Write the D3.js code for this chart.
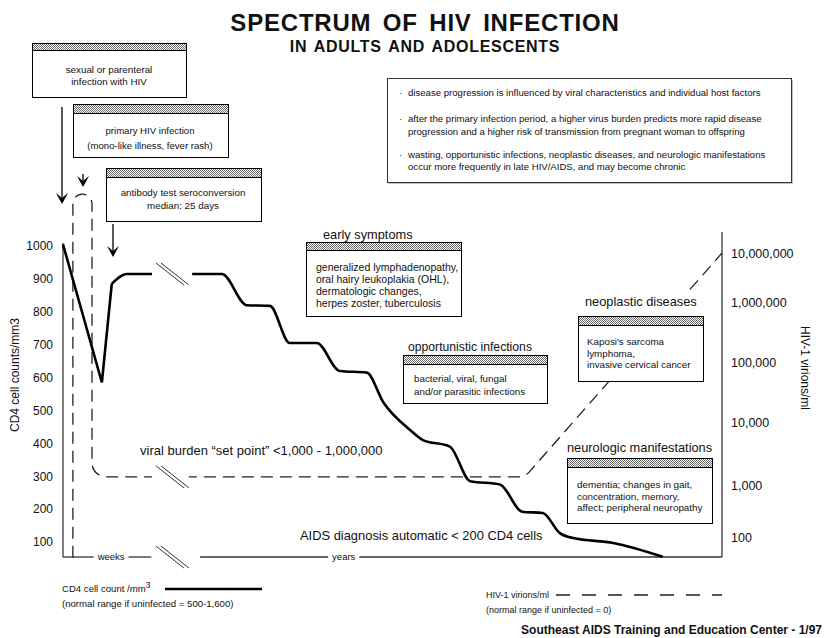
<!DOCTYPE html>
<html>
<head>
<meta charset="utf-8">
<script src="https://cdn.jsdelivr.net/npm/d3@7"></script>
<style>
body { margin: 0; background: #fff; }
text { font-family: "Liberation Sans", Arial, sans-serif; fill: #111; }
</style>
</head>
<body>
<div id="chart"></div>
<script>
// CD4 cell counts (cells/mm3) against a time index 0..100 (weeks, axis break, then years)
var cd4Acute = [[0, 1005], [5.9, 585], [7.4, 885]];
var cd4Recovery = [[7.4, 885], [9.7, 915], [13.5, 915]];
var cd4Chronic = [[19.6, 915], [24.1, 915], [27.9, 820], [31.4, 818], [34.4, 705], [38.5, 705],
  [42.0, 620], [46.1, 615], [48.6, 525], [52.7, 440], [54.6, 410], [58.7, 390], [61.8, 285],
  [66.3, 275], [69.7, 192], [72.8, 188], [75.4, 127], [77.4, 112], [83.5, 97], [91.0, 55]];
// HIV-1 virions/ml, as log10 values
var viralEarly = [[1.5, 1.6], [1.5, 8.2], [4.4, 8.2], [4.4, 3.13], [13.5, 3.13]];
var viralLate = [[19.1, 3.13], [70.1, 3.13], [100, 7]];
var cd4Ticks = [100, 200, 300, 400, 500, 600, 700, 800, 900, 1000];
var viralTicks = [2, 3, 4, 5, 6, 7];
var breakAt = 16.6;
var timeLabels = [["weeks", 7.3], ["years", 42.6]];

var boxTitles = ["", "", "", "early symptoms", "opportunistic infections", "neoplastic diseases", "neurologic manifestations"];
var boxLines = [
  ["sexual or parenteral", "infection with HIV"],
  ["primary HIV infection", "(mono-like illness, fever rash)"],
  ["antibody test seroconversion", "median: 25 days"],
  ["generalized lymphadenopathy,", "oral hairy leukoplakia (OHL),", "dermatologic changes,", "herpes zoster, tuberculosis"],
  ["bacterial, viral, fungal", "and/or parasitic infections"],
  ["Kaposi's sarcoma", "lymphoma,", "invasive cervical cancer"],
  ["dementia; changes in gait,", "concentration, memory,", "affect; peripheral neuropathy"]
];
var notes = [
  ["disease progression is influenced by viral characteristics and individual host factors"],
  ["after the primary infection period, a higher virus burden predicts more rapid disease",
   "progression and a higher risk of transmission from pregnant woman to offspring"],
  ["wasting, opportunistic infections, neoplastic diseases, and neurologic manifestations",
   "occur more frequently in late HIV/AIDS, and may become chronic"]
];

// layout of the annotation boxes (pixels)
var boxLayout = [
  {x: 32, y: 43, w: 154, h: 54, hh: 7, cx: 109, ty: [73, 85], fs: 9.8},
  {x: 73, y: 104, w: 155, h: 53, hh: 9, cx: 150, ty: [134, 149], fs: 9.6},
  {x: 106, y: 168, w: 155, h: 53, hh: 9, cx: 183, ty: [196, 209], fs: 9.8},
  {x: 306, y: 242, w: 155, h: 74, hh: 8, tx: 316, ty: [271, 283, 295, 307], fs: 10.5, titleX: 323, titleY: 239, tfs: 12.8},
  {x: 403, y: 355, w: 144, h: 48, hh: 9, tx: 414, ty: [382, 395], fs: 9.8, titleX: 408, titleY: 351, tfs: 12.2},
  {x: 578, y: 316, w: 125, h: 65, hh: 9, tx: 587, ty: [345, 357, 368], fs: 9.8, titleX: 585, titleY: 306, tfs: 12.8},
  {x: 567, y: 458, w: 145, h: 65, hh: 9, tx: 577, ty: [488, 500, 511], fs: 9.9, titleX: 567, titleY: 452, tfs: 12.8}
];
var arrows = [[62, 107, 204], [83, 174, 187], [113, 224, 257]];

var svg = d3.select("#chart").append("svg").attr("width", 825).attr("height", 638);

var pat = svg.append("defs").append("pattern").attr("id", "stipple")
  .attr("width", 2).attr("height", 2).attr("patternUnits", "userSpaceOnUse");
pat.append("rect").attr("width", 2).attr("height", 2).attr("fill", "#fff");
pat.append("rect").attr("width", 1).attr("height", 1).attr("fill", "#6a6a6a");
pat.append("rect").attr("x", 1).attr("y", 1).attr("width", 1).attr("height", 1).attr("fill", "#6a6a6a");

var x = d3.scaleLinear().domain([0, 100]).range([63, 722]);
var y = d3.scaleLinear().domain([100, 1000]).range([542, 246]);
// hand drawn log axis, the decades are not evenly spaced
var yv = d3.scaleLinear().domain([2, 3, 4, 5, 6, 7]).range([537, 485, 422, 362, 302, 253]);

// title
svg.append("text").attr("x", 425).attr("y", 31).attr("text-anchor", "middle")
  .style("font-size", "24px").style("font-weight", "bold")
  .style("letter-spacing", "0.8px").style("word-spacing", "4px")
  .text("SPECTRUM OF HIV INFECTION");
svg.append("text").attr("x", 425).attr("y", 52).attr("text-anchor", "middle")
  .style("font-size", "16px").style("font-weight", "bold")
  .style("letter-spacing", "0.7px").style("word-spacing", "2px")
  .text("IN ADULTS AND ADOLESCENTS");

// axes
svg.append("line").attr("x1", x(0)).attr("x2", x(0)).attr("y1", 243).attr("y2", 557)
  .attr("stroke", "#555").attr("stroke-width", 1.5);
svg.append("line").attr("x1", x(100)).attr("x2", x(100)).attr("y1", 232).attr("y2", 557)
  .attr("stroke", "#555").attr("stroke-width", 1.5);

var gl = svg.append("g").attr("transform", "translate(" + x(0) + ",0)")
  .call(d3.axisLeft(y).tickValues(cd4Ticks).tickSize(0).tickPadding(10).tickFormat(d3.format("d")));
gl.select(".domain").remove();
gl.selectAll("text").style("font-size", "12px").style("font-family", "Liberation Sans, Arial, sans-serif").attr("fill", "#222");

var gr = svg.append("g").attr("transform", "translate(" + x(100) + ",0)")
  .call(d3.axisRight(yv).tickValues(viralTicks).tickSize(0).tickPadding(9)
    .tickFormat(function(d) { return d3.format(",")(Math.pow(10, d)); }));
gr.select(".domain").remove();
gr.selectAll("text").style("font-size", "12.5px").style("font-family", "Liberation Sans, Arial, sans-serif").attr("fill", "#222");

svg.append("text").attr("transform", "translate(19,375) rotate(-90)").attr("text-anchor", "middle")
  .style("font-size", "12px").text("CD4 cell counts/mm3");
svg.append("text").attr("transform", "translate(801,368) rotate(90)").attr("text-anchor", "middle")
  .style("font-size", "12px").text("HIV-1 virions/ml");

// bottom line with time labels
var baseY = 557;
var gaps = [];
timeLabels.forEach(function(d) {
  var t = svg.append("text").attr("x", x(d[1])).attr("y", baseY + 3).attr("text-anchor", "middle")
    .style("font-size", "9.5px").text(d[0]);
  var w = t.node().getComputedTextLength();
  gaps.push([x(d[1]) - w / 2 - 4, x(d[1]) + w / 2 + 4]);
});
var baseSegs = [[x(0), gaps[0][0]], [gaps[0][1], x(13.4)], [x(20.8), gaps[1][0]], [gaps[1][1], x(100)]];
svg.selectAll(".baseseg").data(baseSegs).enter().append("line")
  .attr("x1", function(d) { return d[0]; }).attr("x2", function(d) { return d[1]; })
  .attr("y1", baseY).attr("y2", baseY).attr("stroke", "#333").attr("stroke-width", 1.3);

// viral load (dashed)
function rounded(pts, radii) {
  var p = d3.path();
  p.moveTo(pts[0][0], pts[0][1]);
  for (var i = 1; i < pts.length - 1; i++) p.arcTo(pts[i][0], pts[i][1], pts[i + 1][0], pts[i + 1][1], radii[i - 1]);
  p.lineTo(pts[pts.length - 1][0], pts[pts.length - 1][1]);
  return p.toString();
}
function vpx(d) { return [x(d[0]), yv(d[1])]; }
svg.append("path").attr("d", rounded(viralEarly.map(vpx), [9.5, 9.5, 14]))
  .attr("fill", "none").attr("stroke", "#222").attr("stroke-width", 1.3).attr("stroke-dasharray", "12,7");
svg.append("path").attr("d", rounded(viralLate.map(vpx), [14]))
  .attr("fill", "none").attr("stroke", "#222").attr("stroke-width", 1.3).attr("stroke-dasharray", "12,7")
  .attr("stroke-dashoffset", 4);

// CD4 (solid)
var lineLin = d3.line().x(function(d) { return x(d[0]); }).y(function(d) { return y(d[1]); });
var lineSmooth = d3.line().x(function(d) { return x(d[0]); }).y(function(d) { return y(d[1]); }).curve(d3.curveMonotoneX);
[[cd4Acute, lineLin], [cd4Recovery, lineSmooth], [cd4Chronic, lineSmooth]].forEach(function(s) {
  svg.append("path").attr("d", s[1](s[0])).attr("fill", "none").attr("stroke", "#000")
    .attr("stroke-width", 2.6).attr("stroke-linejoin", "miter").attr("stroke-linecap", "butt");
});

// axis break marks
var breaks = [y(915), yv(3.13), baseY];
breaks.forEach(function(cy) {
  var cx = x(breakAt);
  [-2.5, 2.5].forEach(function(o) {
    svg.append("line").attr("x1", cx + o - 14).attr("y1", cy - 11).attr("x2", cx + o + 14).attr("y2", cy + 11)
      .attr("stroke", "#333").attr("stroke-width", 1);
  });
});

// annotation boxes
boxLayout.forEach(function(b, i) {
  var g = svg.append("g");
  if (boxTitles[i]) {
    var tt = g.append("text").attr("x", b.titleX).attr("y", b.titleY).style("font-size", b.tfs + "px").text(boxTitles[i]);
    var tw = tt.node().getComputedTextLength();
    g.insert("rect", "text").attr("x", b.titleX - 3).attr("y", b.titleY - 12).attr("width", tw + 6)
      .attr("height", b.y - b.titleY + 12).attr("fill", "#fff");
  }
  g.append("rect").attr("x", b.x + 0.5).attr("y", b.y + 0.5).attr("width", b.w).attr("height", b.h)
    .attr("fill", "#fff").attr("stroke", "#000").attr("stroke-width", 1);
  g.append("rect").attr("x", b.x + 0.5).attr("y", b.y + 0.5).attr("width", b.w).attr("height", b.hh)
    .attr("fill", "url(#stipple)").attr("stroke", "#000").attr("stroke-width", 1);
  boxLines[i].forEach(function(l, j) {
    g.append("text").attr("x", b.cx !== undefined ? b.cx : b.tx).attr("y", b.ty[j])
      .attr("text-anchor", b.cx !== undefined ? "middle" : "start")
      .style("font-size", b.fs + "px").text(l);
  });
});

// arrows
arrows.forEach(function(a) {
  svg.append("line").attr("x1", a[0]).attr("x2", a[0]).attr("y1", a[1]).attr("y2", a[2] - 4)
    .attr("stroke", "#000").attr("stroke-width", 1.3);
  svg.append("path").attr("d", "M" + a[0] + "," + a[2] + "l-6,-11l6,5l6,-5z").attr("fill", "#000");
});

// notes box
svg.append("rect").attr("x", 388.5).attr("y", 79.5).attr("width", 404).attr("height", 104).attr("fill", "#888");
svg.append("rect").attr("x", 387.5).attr("y", 78.5).attr("width", 404).attr("height", 104)
  .attr("fill", "#fff").attr("stroke", "#333").attr("stroke-width", 1);
var noteY = [[96], [122, 135], [158, 170]];
notes.forEach(function(n, i) {
  svg.append("text").attr("x", 399).attr("y", noteY[i][0]).style("font-size", "9.6px").text("\u00b7");
  n.forEach(function(l, j) {
    svg.append("text").attr("x", 408).attr("y", noteY[i][j]).style("font-size", "9.6px").text(l);
  });
});

// free labels
svg.append("text").attr("x", 140).attr("y", 455).style("font-size", "13px")
  .text("viral burden \u201cset point\u201d <1,000 - 1,000,000");
svg.append("text").attr("x", 300).attr("y", 540).style("font-size", "12.9px")
  .text("AIDS diagnosis automatic < 200 CD4 cells");

// legend
var lg1 = svg.append("text").attr("x", 62).attr("y", 592).style("font-size", "9.6px").text("CD4 cell count /mm");
lg1.append("tspan").attr("dy", -4).style("font-size", "8.5px").text("3");
svg.append("text").attr("x", 62).attr("y", 607).style("font-size", "9.6px").text("(normal range if uninfected = 500-1,600)");
svg.append("line").attr("x1", 165).attr("x2", 262).attr("y1", 589).attr("y2", 589)
  .attr("stroke", "#000").attr("stroke-width", 2.6);
svg.append("text").attr("x", 486).attr("y", 598).style("font-size", "9px").text("HIV-1 virions/ml");
svg.append("text").attr("x", 486).attr("y", 613).style("font-size", "9px").text("(normal range if uninfected = 0)");
svg.append("line").attr("x1", 556).attr("x2", 722).attr("y1", 595).attr("y2", 595)
  .attr("stroke", "#222").attr("stroke-width", 1.3).attr("stroke-dasharray", "14,12");

// footer
svg.append("text").attr("x", 822).attr("y", 634).attr("text-anchor", "end")
  .style("font-size", "12px").style("font-weight", "bold")
  .text("Southeast AIDS Training and Education Center - 1/97");
</script>
</body>
</html>
